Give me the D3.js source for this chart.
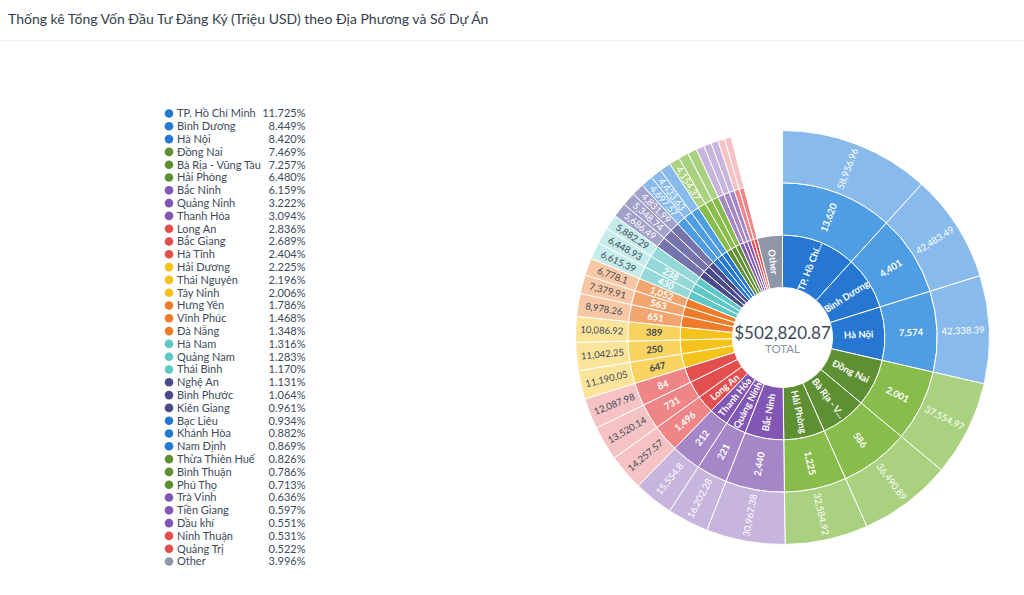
<!DOCTYPE html>
<html><head><meta charset="utf-8">
<script src="https://cdn.jsdelivr.net/npm/d3@7"></script>
<style>
body{margin:0;background:#fff;font-family:Lato,"Noto Sans",sans-serif;}
svg{display:block}
</style></head><body>
<svg id="chart" width="1024" height="595"></svg>
<script>
// ---------- DATA ----------
const chartTitle = "Thống kê Tổng Vốn Đầu Tư Đăng Ký (Triệu USD) theo Địa Phương và Số Dự Án";
const provinces = ["TP. Hồ Chí Minh","Bình Dương","Hà Nội","Đồng Nai","Bà Rịa - Vũng Tàu","Hải Phòng","Bắc Ninh","Quảng Ninh","Thanh Hóa","Long An","Bắc Giang","Hà Tĩnh","Hải Dương","Thái Nguyên","Tây Ninh","Hưng Yên","Vĩnh Phúc","Đà Nẵng","Hà Nam","Quảng Nam","Thái Bình","Nghệ An","Bình Phước","Kiên Giang","Bạc Liêu","Khánh Hòa","Nam Định","Thừa Thiên Huế","Bình Thuận","Phú Thọ","Trà Vinh","Tiền Giang","Dầu khí","Ninh Thuận","Quảng Trị"];
const projectCounts = [13620,4401,7574,2001,586,1225,2440,221,212,1496,731,84,647,250,389,651,563,1052,430,238,110,150,400,60,20,140,150,150,130,180,50,130,70,50,30];
const capitalValues = [58956.96,42483.49,42338.39,37554.97,36490.89,32584.92,30967.38,16202.28,15554.80,14257.57,13520.14,12087.98,11190.05,11042.25,10086.92,8978.26,7379.91,6778.10,6615.39,6448.93,5882.29,5686.49,5348.74,4831.99,4697.57,4433.63,4369.40,4154.37,3952.10,3585.20,3198.00,3001.70,2770.60,2670.10,2624.80];
const otherName = "Other";
const otherCapital = 20094.31;
const totalLabel = "TOTAL";

// ---------- STYLE ----------
const W = 1024, H = 595;
const cx = 782.5, cy = 337.5;
const rHole = 50, rOuter = 207;
const palette = [
  ["#2577d1","#4f9de2","#88bbeb"], // blue
  ["#5e8f32","#88bd4b","#a9d17f"], // green
  ["#8156b4","#a587c8","#c8b5dd"], // purple
  ["#e34f4f","#ef8586","#f5c3c4"], // red
  ["#f5c21b","#f8d35f","#fbe49a"], // yellow
  ["#ee7c2a","#f3a56f","#f8c8a5"], // orange
  ["#5ec8c6","#94d9d7","#c5ecea"], // teal
  ["#4b4a8b","#7674ad","#a3a0c9"]  // indigo
];
const otherColor = "#8e96a8";
const textDark = "#3f4a5a";

const svg = d3.select("#chart");

// title
svg.append("text").attr("x", 8).attr("y", 23.5)
  .attr("font-size", 14).attr("font-weight", 400).attr("fill", "#333e4e")
  .text(chartTitle);
svg.append("line").attr("x1", 0).attr("x2", W).attr("y1", 40.5).attr("y2", 40.5)
  .attr("stroke", "#eeeeef").attr("stroke-width", 1);

// items
const items = provinces.map((p, i) => ({name: p, projects: projectCounts[i], capital: capitalValues[i], colors: palette[Math.floor(i/3) % palette.length], other: false}));
items.push({name: otherName, projects: null, capital: otherCapital, colors: [otherColor], other: true});
const total = d3.sum(items, d => d.capital);

const pie = d3.pie().sort(null).value(d => d.capital).startAngle(0).endAngle(2*Math.PI);
const arcsData = pie(items);

const ringW = (rOuter - rHole) / 3;
const radii = [0,1,2].map(k => [rHole + k*ringW, rHole + (k+1)*ringW]);

const g = svg.append("g").attr("transform", `translate(${cx},${cy})`);

function brightness(hex){
  const c = d3.rgb(hex);
  return 0.299*c.r + 0.587*c.g + 0.114*c.b;
}

const fmtInt = d3.format(",");
const fmtCap = v => d3.format(",")(Math.round(v*100)/100);
const maxChars = 10;

const minArc = [13.2, 9.2, 9.2];
const minGap = 10.1;

for (let k = 0; k < 3; k++) {
  const [r0, r1] = radii[k];
  const rm = (r0 + r1) / 2;
  const arc = d3.arc().innerRadius(r0).outerRadius(r1);
  const ringData = arcsData.filter(d => k === 0 || !d.data.other);
  const ring = g.append("g");
  ring.selectAll("path").data(ringData).join("path")
    .attr("d", arc)
    .attr("fill", d => d.data.colors[d.data.other ? 0 : k])
    .attr("stroke", "#fff").attr("stroke-width", 1);

  // labels
  let lastMid = null;
  const lab = g.append("g");
  ringData.forEach(d => {
    const span = (d.endAngle - d.startAngle) * rm;
    const mid = (d.startAngle + d.endAngle) / 2;
    if (span < minArc[k]) return;
    if (lastMid !== null && (mid - lastMid) * rm < minGap) return;
    lastMid = mid;
    const deg = mid * 180 / Math.PI;
    const fill = d.data.colors[d.data.other ? 0 : k];
    let txt;
    if (k === 0) {
      txt = d.data.name;
      if (txt.length > maxChars) txt = txt.slice(0, maxChars) + "...";
    }
    else if (k === 1) txt = fmtInt(d.data.projects);
    else txt = fmtCap(d.data.capital);
    lab.append("text")
      .attr("transform", `rotate(${deg - 90}) translate(${rm},0) rotate(${deg < 180 ? 0 : 180})`)
      .attr("text-anchor", "middle").attr("dy", "0.35em")
      .attr("font-size", 9.5)
      .attr("font-weight", k === 2 ? 400 : 700)
      .attr("fill", brightness(fill) > 200 ? textDark : "#ffffff")
      .text(txt);
  });
}

// center text
g.append("text").attr("text-anchor", "middle").attr("y", 1.5)
  .attr("font-size", 17).attr("fill", "#3d4a5c")
  .text("$" + d3.format(",.2f")(total));
g.append("text").attr("text-anchor", "middle").attr("y", 15)
  .attr("font-size", 11.5).attr("fill", "#8a93a3")
  .text(totalLabel);

// legend
const legend = svg.append("g");
const rowH = 12.8, ly0 = 113.5;
const fmtPct = d3.format(".3f");
items.forEach((d, i) => {
  const y = ly0 + i * rowH;
  legend.append("circle").attr("cx", 169).attr("cy", y).attr("r", 4.3).attr("fill", d.colors[0]);
  legend.append("text").attr("x", 177).attr("y", y).attr("dy", "0.35em")
    .attr("font-size", 11).attr("fill", "#3d4a5c").text(d.name);
  legend.append("text").attr("x", 305.5).attr("y", y).attr("dy", "0.35em")
    .attr("text-anchor", "end").attr("font-size", 11).attr("fill", "#3d4a5c")
    .text(fmtPct(d.capital / total * 100) + "%");
});
</script>
</body></html>
